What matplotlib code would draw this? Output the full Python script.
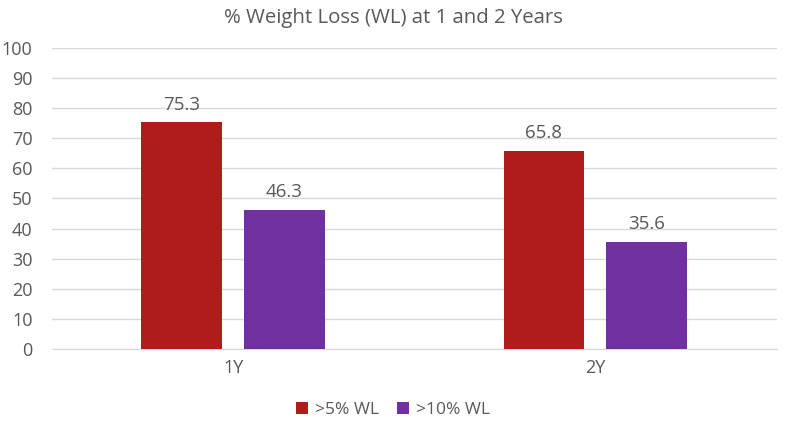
import matplotlib.pyplot as plt
import numpy as np

plt.rcParams['font.family'] = ['Open Sans', 'DejaVu Sans']

categories = ['1Y', '2Y']
wl_5 = [75.3, 65.8]
wl_10 = [46.3, 35.6]
series_labels = ['>5% WL', '>10% WL']
colors = ['#B01C1C', '#7030A0']
text_color = '#595959'

fig = plt.figure(figsize=(7.86, 4.23), dpi=100)
ax = fig.add_axes([0.066, 0.175, 0.922, 0.712])

x = np.arange(len(categories))
width = 0.223
offset = 0.142

bars1 = ax.bar(x - offset, wl_5, width, color=colors[0], label=series_labels[0], zorder=3)
bars2 = ax.bar(x + offset, wl_10, width, color=colors[1], label=series_labels[1], zorder=3)

for bars in (bars1, bars2):
    for b in bars:
        ax.text(b.get_x() + b.get_width() / 2, b.get_height() + 2.8, f"{b.get_height():.1f}",
                ha='center', va='bottom', fontsize=13.5, color=text_color)

ax.set_xlim(-0.5, 1.5)
ax.set_ylim(0, 100)
ax.set_yticks(range(0, 101, 10))
ax.set_xticks(x)
ax.set_xticklabels(categories)
ax.tick_params(axis='both', length=0, labelsize=13, colors=text_color)
ax.tick_params(axis='y', pad=14)
ax.tick_params(axis='x', pad=7)
ax.grid(axis='y', color='#D9D9D9', linewidth=1, zorder=0)
for s in ['top', 'right', 'left']:
    ax.spines[s].set_visible(False)
ax.spines['bottom'].set_color('#D9D9D9')

# title is centred on the whole figure, not the plot area
fig.suptitle('% Weight Loss (WL) at 1 and 2 Years', x=0.5, y=0.98, fontsize=14.7, color=text_color)

fig.legend(loc='lower center', bbox_to_anchor=(0.5, -0.025), ncol=2, frameon=False,
           fontsize=12.5, labelcolor=text_color, handlelength=0.7, handleheight=0.7,
           handletextpad=0.4, columnspacing=1.0)

plt.savefig('out.png')
